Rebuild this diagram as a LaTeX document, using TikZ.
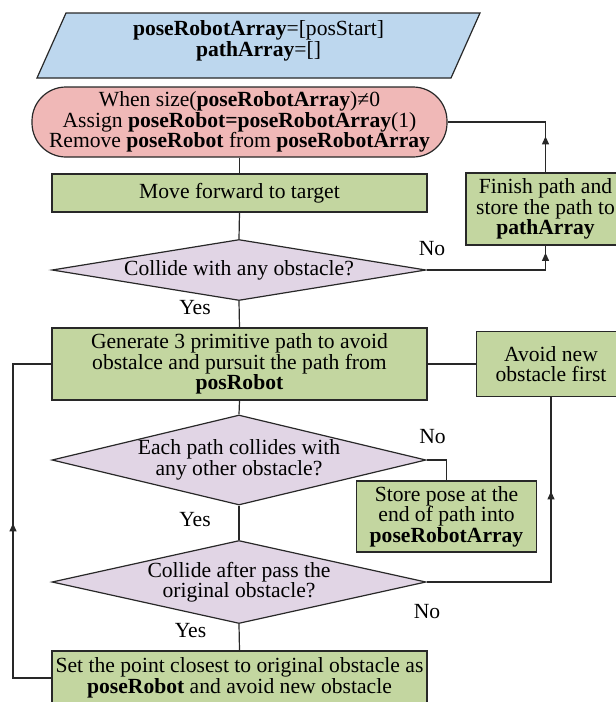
\documentclass[tikz,border=0pt]{standalone}
\usepackage{fontspec}
\setmainfont{Liberation Serif}
\usetikzlibrary{shapes.geometric,arrows.meta,decorations.markings}
\definecolor{cblue}{RGB}{189,215,238}
\definecolor{cpink}{RGB}{240,184,183}
\definecolor{cgreen}{RGB}{195,214,160}
\definecolor{cpurple}{RGB}{225,213,229}
\definecolor{cline}{RGB}{40,40,40}
\begin{document}
\begin{tikzpicture}[x=1pt,y=-1pt,
  every node/.style={font=\fontsize{21.6}{20.5}\selectfont, text=black},
  box/.style={draw=cline, line width=1.2pt, fill=cgreen, rectangle, align=center, inner sep=0pt},
  term/.style={draw=cline, line width=1.2pt, fill=cpink, rectangle, rounded corners=34pt, align=center, inner sep=0pt},
  dia/.style={draw=cline, line width=1.2pt, fill=cpurple, diamond, inner sep=0pt, minimum width=374pt},
  txt/.style={align=center, inner sep=0pt},
  conn/.style={draw=cline, line width=1.2pt},
  midarrow/.style={postaction={decorate}, decoration={markings, mark=at position #1 with {\arrow{Triangle[length=8pt,width=7pt]}}}}
]
\useasboundingbox (0,0) rectangle (616,702);
\fill[white] (0,0) rectangle (616,702);

% start (parallelogram)
\coordinate (p1) at (66,13);
\coordinate (p2) at (480,13);
\coordinate (p3) at (451,78);
\coordinate (p4) at (37,78);
\draw[draw=cline, line width=1.2pt, fill=cblue] (p1) -- (p2) -- (p3) -- (p4) -- cycle;
\node[txt] (init) at (258.5,41) {\textbf{poseRobotArray}=[posStart]\\\textbf{pathArray}=[]};

% terminal
\node[term, minimum width=415pt, minimum height=70pt] (loop) at (239.5,122)
  {When size(\textbf{poseRobotArray})≠0\\Assign \textbf{poseRobot=poseRobotArray}(1)\\Remove \textbf{poseRobot} from \textbf{poseRobotArray}};

\node[box, minimum width=375pt, minimum height=38pt] (move) at (239.5,193) {Move forward to target};

\node[dia, minimum height=61pt] (d1) at (239,270) {};
\node[txt] (d1t) at (d1.center) {Collide with any obstacle?};

\node[box, minimum width=375pt, minimum height=72pt] (gen) at (239.5,364)
  {Generate 3 primitive path to avoid\\obstalce and pursuit the path from\\\textbf{posRobot}};

\node[dia, minimum height=90pt] (d2) at (239,460) {};
\node[txt] (d2t) at (d2.center) {Each path collides with\\any other obstacle?};

\node[dia, minimum height=83pt] (d3) at (239,582) {};
\node[txt] (d3t) at (d3.center) {Collide after pass the\\original obstacle?};

\node[box, minimum width=375pt, minimum height=54pt] (set) at (239.5,678)
  {Set the point closest to original obstacle as\\\textbf{poseRobot} and avoid new obstacle};

\node[box, minimum width=159pt, minimum height=72pt] (finish) at (545.5,209)
  {Finish path and\\store the path to\\\textbf{pathArray}};

\node[box, minimum width=149pt, minimum height=65pt] (avoid) at (551,364)
  {Avoid new\\obstacle first};

\node[box, minimum width=180pt, minimum height=71pt] (store) at (446.5,516.5)
  {Store pose at the\\end of path into\\\textbf{poseRobotArray}};

% straight connectors
\draw[conn] (loop.south) -- (move.north);
\draw[conn] (move.south) -- (d1.north);
\draw[conn] (d1.south) -- (gen.north);
\draw[conn] (gen.south) -- (d2.north);
\draw[conn] (d2.south) -- (d3.north);
\draw[conn] (d3.south) -- (set.north);
\draw[conn] (gen.east) -- (avoid.west);
\draw[conn] (d2.east) -| (store.north);

% arrowed connectors
\draw[conn, midarrow=36pt] (finish.north) |- (loop.east);
\draw[conn, midarrow=136pt] (d1.east) -| (finish.south);
\draw[conn, midarrow=215pt] (d3.east) -| (avoid.south);
\coordinate (lx) at (13,0);
\draw[conn, midarrow=193pt] (set.west) -- (set.west -| lx) -- (gen.west -| lx) -- (gen.west);

% labels
\node[txt] (l1) at (432,249) {No};
\node[txt] (l2) at (195,308) {Yes};
\node[txt] (l3) at (432.5,437) {No};
\node[txt] (l4) at (195,520) {Yes};
\node[txt] (l5) at (427,612) {No};
\node[txt] (l6) at (190.5,631) {Yes};
\end{tikzpicture}
\end{document}
